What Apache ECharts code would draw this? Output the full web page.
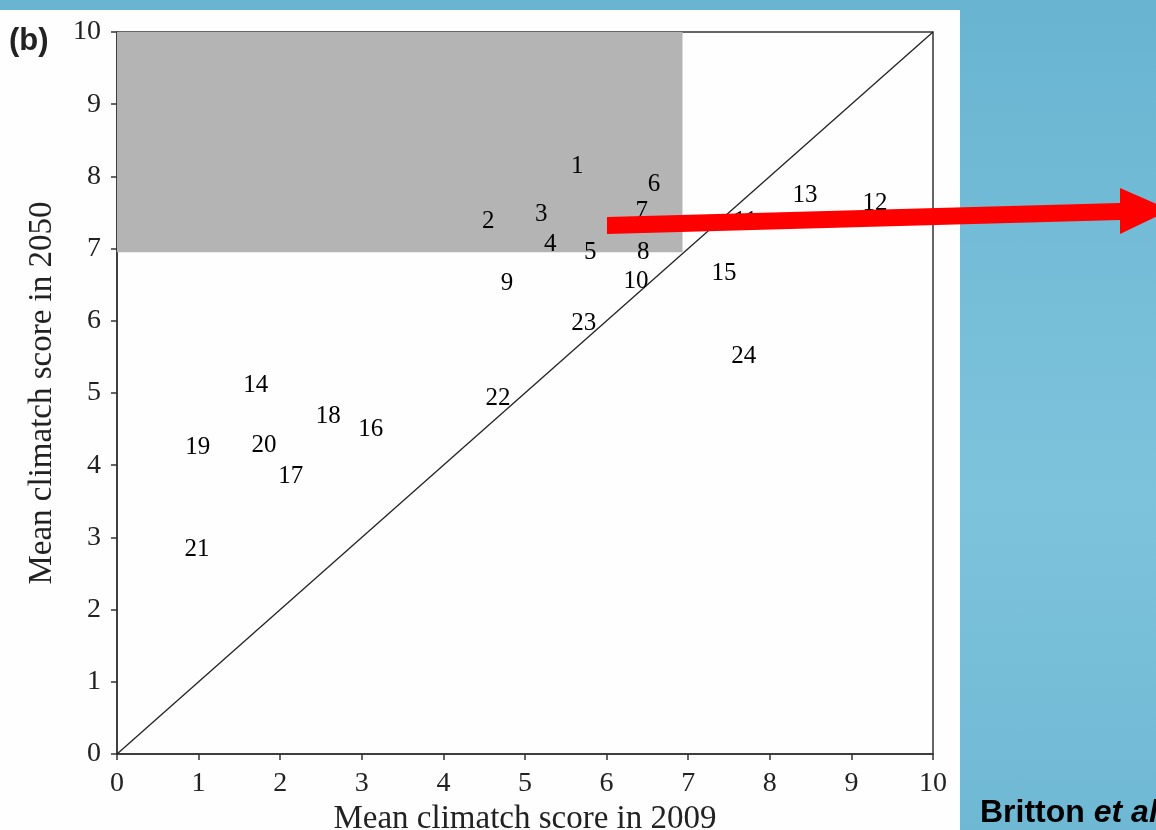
<!DOCTYPE html>
<html>
<head>
<meta charset="utf-8">
<script src="https://cdn.jsdelivr.net/npm/echarts@6/dist/echarts.min.js"></script>
<style>
html,body{margin:0;padding:0;width:1156px;height:830px;overflow:hidden;}
body{background:linear-gradient(180deg,#68b4d1 0%,#74bcd7 30%,#7ec3dc 60%,#6fb8d4 100%);}
#panel{position:absolute;left:0;top:10px;width:960px;height:820px;background:#fefefe;}
#chart{position:absolute;left:0;top:0;width:1156px;height:830px;}
</style>
</head>
<body>
<div id="panel"></div>
<div id="chart"></div>
<script>
// Species labels and their mean climatch scores
const speciesLabels = ['1','2','3','4','5','6','7','8','9','10','11','12','13','14','15','16','17','18','19','20','21','22','23','24'];
const score2009 = [5.64,4.55,5.20,5.31,5.80,6.58,6.43,6.45,4.78,6.36,7.70,9.29,8.43,1.70,7.44,3.11,2.13,2.59,0.99,1.80,0.98,4.67,5.72,7.68];
const score2050 = [8.14,7.37,7.48,7.06,6.95,7.89,7.51,6.95,6.52,6.54,7.37,7.62,7.74,5.10,6.65,4.49,3.85,4.67,4.25,4.28,2.84,4.93,5.97,5.50];
const highlightX = [0, 6.93];
const highlightY = [6.95, 10];
const diagonal = [[0,0],[10,10]];
const axisTicks = [0,1,2,3,4,5,6,7,8,9,10];

const chart = echarts.init(document.getElementById('chart'), null, {renderer:'canvas'});
const serif = "'Liberation Serif','DejaVu Serif',serif";
const points = score2009.map((x,i)=>[x, score2050[i], speciesLabels[i]]);

chart.setOption({
  animation:false,
  backgroundColor:'transparent',
  grid:{left:117, top:32, right:223, bottom:76, outerBoundsMode:'none', containLabel:false, show:true, borderColor:'#333', borderWidth:1.5, backgroundColor:'transparent'},
  xAxis:{
    type:'value', min:axisTicks[0], max:axisTicks[axisTicks.length-1], interval:1,
    name:'Mean climatch score in 2009', nameLocation:'middle', nameGap:47,
    nameTextStyle:{fontFamily:serif, fontSize:33, color:'#222'},
    axisLine:{show:true, lineStyle:{color:'#333', width:1.5}},
    axisTick:{show:true, inside:false, length:6, lineStyle:{color:'#333', width:1.5}},
    axisLabel:{fontFamily:serif, fontSize:28, color:'#222', margin:16},
    splitLine:{show:false}
  },
  yAxis:{
    type:'value', min:axisTicks[0], max:axisTicks[axisTicks.length-1], interval:1,
    name:'Mean climatch score in 2050', nameLocation:'middle', nameGap:58,
    nameTextStyle:{fontFamily:serif, fontSize:33, color:'#222'},
    axisLine:{show:true, lineStyle:{color:'#333', width:1.5}},
    axisTick:{show:true, inside:false, length:6, lineStyle:{color:'#333', width:1.5}},
    axisLabel:{fontFamily:serif, fontSize:28, color:'#222', margin:16},
    splitLine:{show:false}
  },
  series:[
    {
      type:'line', data:diagonal, symbol:'none', silent:true, z:3,
      lineStyle:{color:'#222', width:1.3},
      markArea:{silent:true, itemStyle:{color:'#b4b4b4'}, z:1,
        data:[[{coord:[highlightX[0],highlightY[0]]},{coord:[highlightX[1],highlightY[1]]}]]}
    },
    {
      type:'scatter', data:points, symbolSize:2, itemStyle:{color:'rgba(255,255,255,0)'}, z:5,
      label:{show:true, position:'inside', formatter:p=>p.data[2],
        fontFamily:serif, fontSize:25, color:'#000', opacity:1}
    }
  ],
  graphic:[
    {type:'text', left:9, top:26, z:10, style:{text:'(b)', fontFamily:"'Liberation Sans',Arial,sans-serif", fontWeight:'bold', fontSize:31, fill:'#222'}},
    {type:'text', left:980, top:797, z:10, style:{text:'{a|Britton }{b|et al.}', rich:{
      a:{fontFamily:"'Liberation Sans',Arial,sans-serif", fontWeight:'bold', fontSize:32, fill:'#000'},
      b:{fontFamily:"'Liberation Sans',Arial,sans-serif", fontWeight:'bold', fontStyle:'italic', fontSize:32, fill:'#000'}}}},
    {type:'polygon', z:20, shape:{points:[[607,217],[1120,203],[1120,188],[1170,210],[1120,234],[1120,220],[607,234]]}, style:{fill:'#ff0000'}}
  ]
});
</script>
</body>
</html>
